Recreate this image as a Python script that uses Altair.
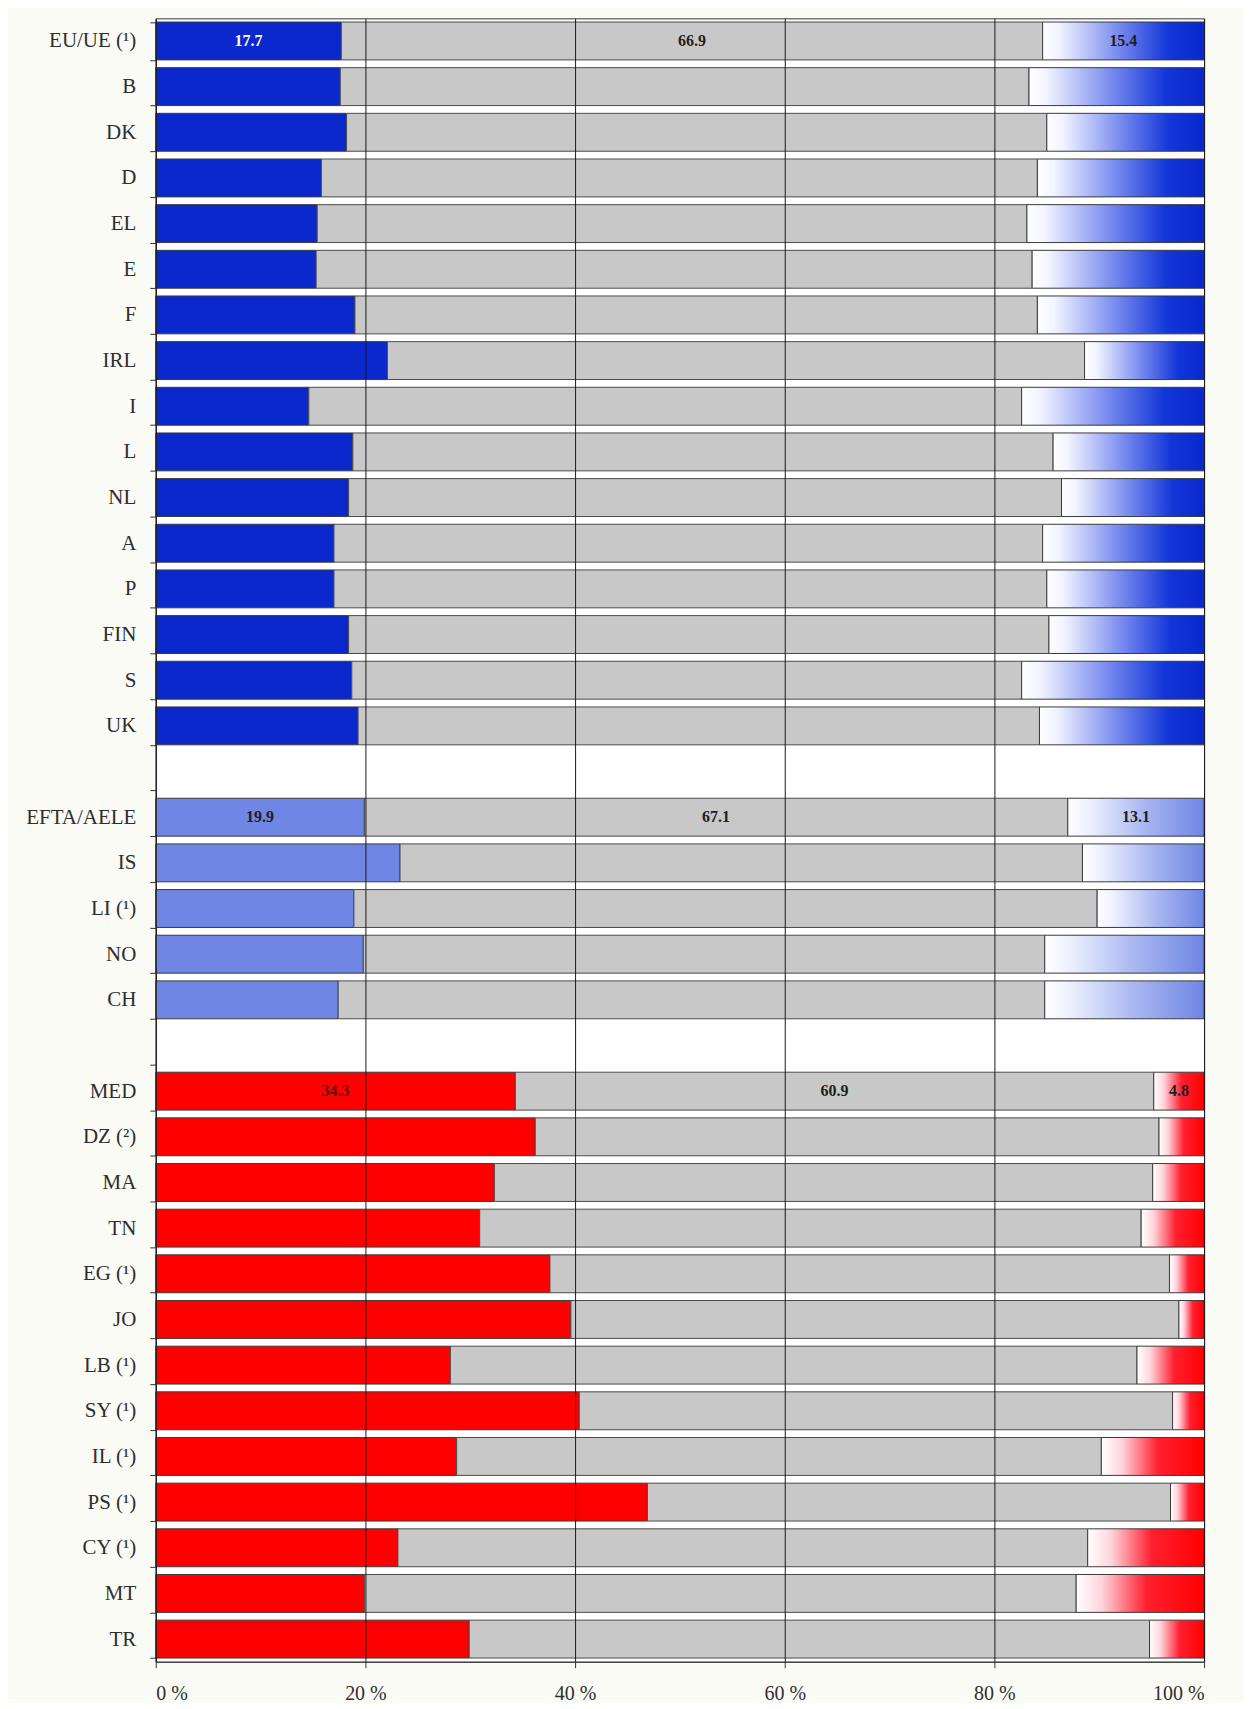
import altair as alt
import pandas as pd

# ---- data ----
categories = ["EU/UE (¹)", "B", "DK", "D", "EL", "E", "F", "IRL", "I", "L", "NL", "A", "P", "FIN", "S", "UK",
              "EFTA/AELE", "IS", "LI (¹)", "NO", "CH",
              "MED", "DZ (²)", "MA", "TN", "EG (¹)", "JO", "LB (¹)", "SY (¹)", "IL (¹)", "PS (¹)", "CY (¹)", "MT", "TR"]
groups = ["EU"] * 16 + ["EFTA"] * 5 + ["MED"] * 13
first_pct = [17.7, 17.6, 18.2, 15.8, 15.4, 15.3, 19.0, 22.1, 14.6, 18.8, 18.4, 17.0, 17.0, 18.4, 18.7, 19.3,
             19.9, 23.3, 18.9, 19.8, 17.4,
             34.3, 36.2, 32.3, 30.9, 37.6, 39.6, 28.1, 40.4, 28.7, 46.9, 23.1, 19.9, 29.9]
middle_pct = [66.9, 65.7, 66.8, 68.3, 67.7, 68.3, 65.1, 66.5, 68.0, 66.8, 68.0, 67.6, 68.0, 66.8, 63.9, 65.0,
              67.1, 65.1, 70.9, 65.0, 67.4,
              60.9, 59.5, 62.8, 63.1, 59.1, 58.0, 65.5, 56.6, 61.5, 49.9, 65.8, 67.9, 64.9]
last_pct = [15.4, 16.7, 15.0, 15.9, 16.9, 16.4, 15.9, 11.4, 17.4, 14.4, 13.6, 15.4, 15.0, 14.8, 17.4, 15.7,
            13.1, 11.6, 10.2, 15.2, 15.2,
            4.8, 4.3, 4.9, 6.0, 3.3, 2.4, 6.4, 3.0, 9.8, 3.2, 11.1, 12.2, 5.2]
labeled_rows = ["EU/UE (¹)", "EFTA/AELE", "MED"]
gap1, gap2 = " ", "  "
order = categories[:16] + [gap1] + categories[16:21] + [gap2] + categories[21:]
x_ticks = [0, 20, 40, 60, 80, 100]

# ---- build table ----
rows = []
for c, g, f, m, l in zip(categories, groups, first_pct, middle_pct, last_pct):
    rows.append(dict(cat=c, group=g, seg="first", start=0, end=f, val=f))
    rows.append(dict(cat=c, group=g, seg="middle", start=f, end=f + m, val=m))
    rows.append(dict(cat=c, group=g, seg="last", start=f + m, end=min(f + m + l, 100), val=l))
df = pd.DataFrame(rows)
df["mid"] = (df["start"] + df["end"]) / 2
df["label"] = df["val"].map(lambda v: f"{v:.1f}")
lab = df[df["cat"].isin(labeled_rows)].copy()


def text_color(c, s):
    if c == "EU/UE (¹)" and s == "first":
        return "white"
    if c == "MED" and s == "first":
        return "#6a0c0c"
    return "#1e1e1e"


lab["tcolor"] = [text_color(c, s) for c, s in zip(lab["cat"], lab["seg"])]

SERIF = "Liberation Serif"
yscale = alt.Scale(domain=order, paddingInner=0.17, paddingOuter=0.08)
xscale = alt.Scale(domain=[0, 100], nice=False, clamp=True)

yenc = alt.Y("cat:N", scale=yscale, sort=order,
             axis=alt.Axis(title=None, tickBand="extent", labelFont=SERIF, labelFontSize=21,
                           labelColor="#2e2e2e", tickSize=6, tickColor="#333333",
                           domainColor="#333333", labelPadding=14, grid=False))
xenc = alt.X("start:Q", scale=xscale,
             axis=alt.Axis(title=None, values=x_ticks, labelExpr="datum.value + ' %'",
                           labelFont=SERIF, labelFontSize=20, labelColor="#2e2e2e",
                           grid=True, gridColor="#1a1a1a", gridWidth=1, zindex=1,
                           tickSize=6, tickColor="#333333", domainColor="#333333",
                           labelPadding=16))

base = alt.Chart(df)

first = base.transform_filter("datum.seg == 'first'").mark_bar(
    stroke="#3a3a3a", strokeWidth=1).encode(
    x=xenc, x2="end:Q", y=yenc,
    color=alt.Color("group:N", scale=alt.Scale(domain=["EU", "EFTA", "MED"],
                                               range=["#0a28cc", "#6f86e4", "#ff0000"]), legend=None))

middle = base.transform_filter("datum.seg == 'middle'").mark_bar(
    fill="#c8c8c8", stroke="#4a4a4a", strokeWidth=1).encode(x=xenc, x2="end:Q", y=yenc)


def grad(stops):
    return alt.LinearGradient(gradient="linear", x1=0, x2=1, y1=0, y2=0,
                              stops=[alt.GradientStop(offset=o, color=c) for o, c in stops])


grads = {
    "EU": grad([(0, "#ffffff"), (0.1, "#f2f4ff"), (0.45, "#7e90f0"), (0.78, "#1236d8"), (1, "#0a28cc")]),
    "EFTA": grad([(0, "#ffffff"), (0.15, "#eef1ff"), (0.6, "#a3b2f0"), (1, "#6f86e4")]),
    "MED": grad([(0, "#ffffff"), (0.2, "#ffd4dc"), (0.55, "#ff2030"), (1, "#ff0000")]),
}
last_layers = []
for g in ["EU", "EFTA", "MED"]:
    last_layers.append(
        base.transform_filter(f"datum.seg == 'last' && datum.group == '{g}'").mark_bar(
            fill=grads[g], stroke="#3a3a3a", strokeWidth=1).encode(x=xenc, x2="end:Q", y=yenc))

text = alt.Chart(lab).mark_text(font=SERIF, fontSize=16, fontWeight="bold").encode(
    x=alt.X("mid:Q", scale=xscale), y=alt.Y("cat:N", scale=yscale, sort=order),
    text="label:N", color=alt.Color("tcolor:N", scale=None))

chart = alt.layer(first, middle, *last_layers, text).properties(
    width=1050, height=1646,
    background="#fbfbf6",
    autosize=alt.AutoSizeParams(type="none"),
    padding={"left": 148, "top": 9, "right": 40, "bottom": 40},
).configure_view(stroke="#333333", strokeWidth=1, fill="white")

chart.save("out.html", embed_options={"renderer": "svg", "actions": False})
